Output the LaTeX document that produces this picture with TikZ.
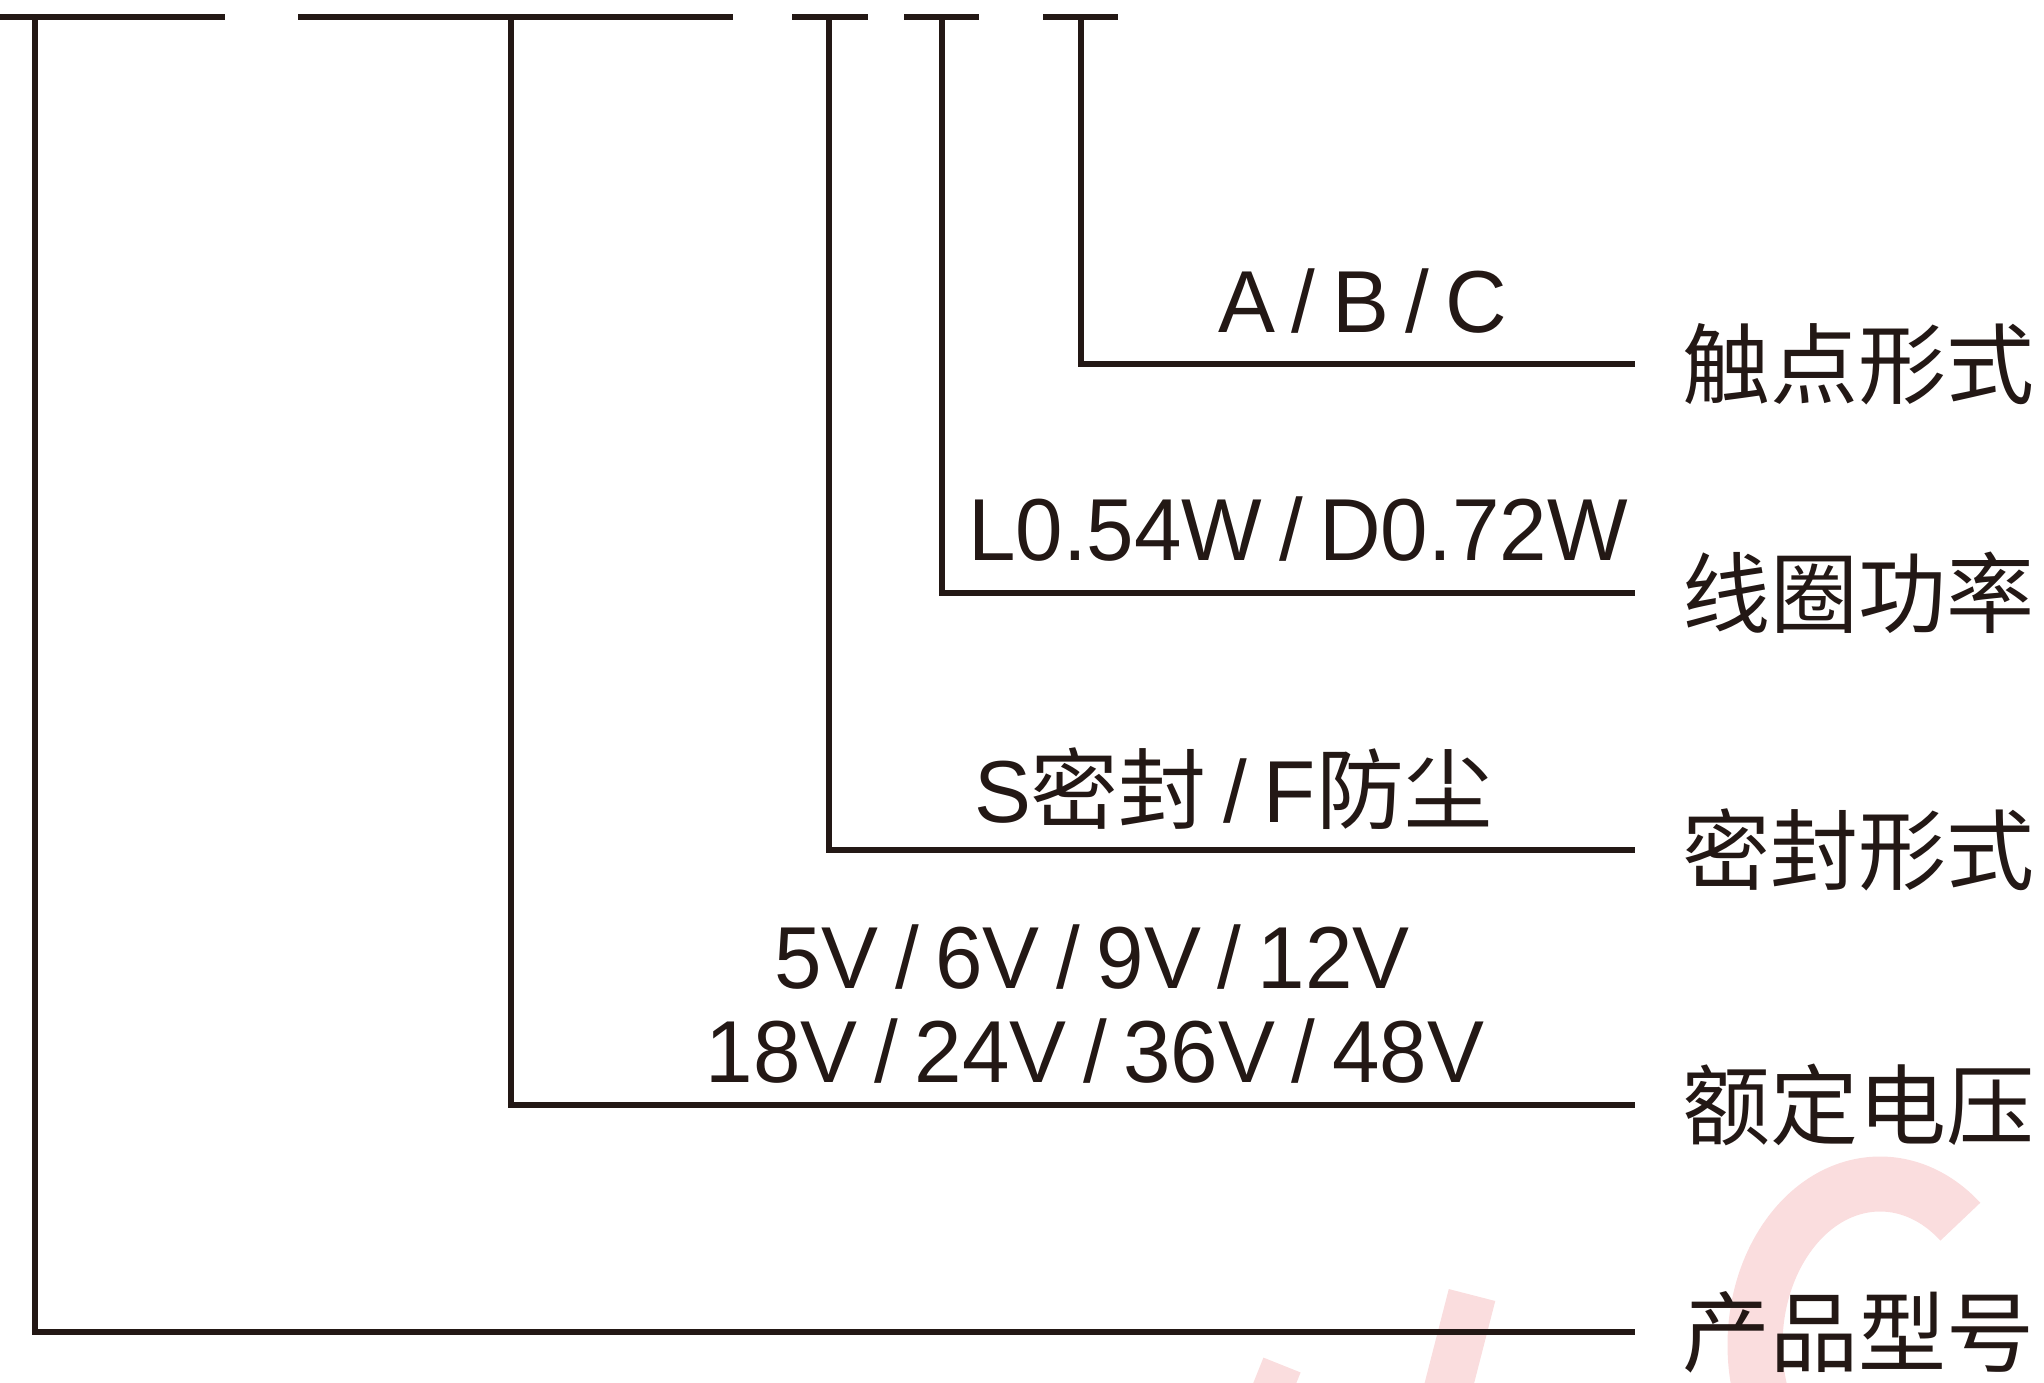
\documentclass[tikz,border=0pt]{standalone}
\usepackage{fontspec}
\setmainfont{Liberation Sans}[FakeStretch=0.97, WordSpace=0.7]
\newfontfamily\cjk{Noto Sans CJK SC}
\definecolor{ink}{HTML}{231815}
\definecolor{wm}{RGB}{250,221,222}
\begin{document}
\begin{tikzpicture}[x=0.5pt,y=-0.5pt,
  conn/.style={draw=ink, line width=3pt, line join=miter},
  bar/.style={draw=ink, line width=3.2pt},
  cjklab/.style={inner sep=0pt, anchor=center, text=ink, font=\cjk\fontsize{44pt}{50pt}\selectfont},
  val/.style={inner sep=0pt, anchor=base, text=ink, font=\fontsize{44pt}{50pt}\selectfont},
  wmark/.style={draw=wm}]
\useasboundingbox (0,0) rectangle (2044,1382);
% faint watermark
\begin{scope}
\clip (0,0) rectangle (2044,1382);
\draw[wmark, line width=27.5pt] (1880,1345) ++(-50:125 and 161)
  arc[start angle=-50, end angle=-270, x radius=125, y radius=161];
\draw[wmark, line width=24pt] (1472,1295) -- (1445,1400);
\draw[wmark, line width=20pt] (1282,1365) -- (1268,1400);
\end{scope}
% top code bar
\coordinate (s1a) at (0,17);    \coordinate (s1b) at (225,17);
\coordinate (s2a) at (298,17);  \coordinate (s2b) at (733,17);
\coordinate (s3a) at (792,17);  \coordinate (s3b) at (868,17);
\coordinate (s4a) at (904,17);  \coordinate (s4b) at (979,17);
\coordinate (s5a) at (1043,17); \coordinate (s5b) at (1118,17);
\draw[bar] (s1a) -- (s1b);
\draw[bar] (s2a) -- (s2b);
\draw[bar] (s3a) -- (s3b);
\draw[bar] (s4a) -- (s4b);
\draw[bar] (s5a) -- (s5b);
% drop points
\coordinate (t1) at (35,17);
\coordinate (t2) at (511,17);
\coordinate (t3) at (829,17);
\coordinate (t4) at (942,17);
\coordinate (t5) at (1081,17);
% line ends
\coordinate (e1) at (1635,1332);
\coordinate (e2) at (1635,1105);
\coordinate (e3) at (1635,850);
\coordinate (e4) at (1635,593);
\coordinate (e5) at (1635,364);
% right labels
\node[cjklab] (l5) at (1858,364) {触点形式};
\node[cjklab] (l4) at (1858,593) {线圈功率};
\node[cjklab] (l3) at (1858,850) {密封形式};
\node[cjklab] (l2) at (1858,1105) {额定电压};
\node[cjklab] (l1) at (1858,1332) {产品型号};
% value labels
\node[val] (v5) at (1363,332) {A / B / C};
\node[val] (v4) at (1298,560) {L0.54W / D0.72W};
\node[val] (v3) at (1233,822) {S{\cjk 密封} / F{\cjk 防尘}};
\node[val] (v2a) at (1092,988) {5V / 6V / 9V / 12V};
\node[val] (v2b) at (1095,1082) {18V / 24V / 36V / 48V};
% connectors
\draw[conn] (t1) |- (e1);
\draw[conn] (t2) |- (e2);
\draw[conn] (t3) |- (e3);
\draw[conn] (t4) |- (e4);
\draw[conn] (t5) |- (e5);
\end{tikzpicture}
\end{document}
